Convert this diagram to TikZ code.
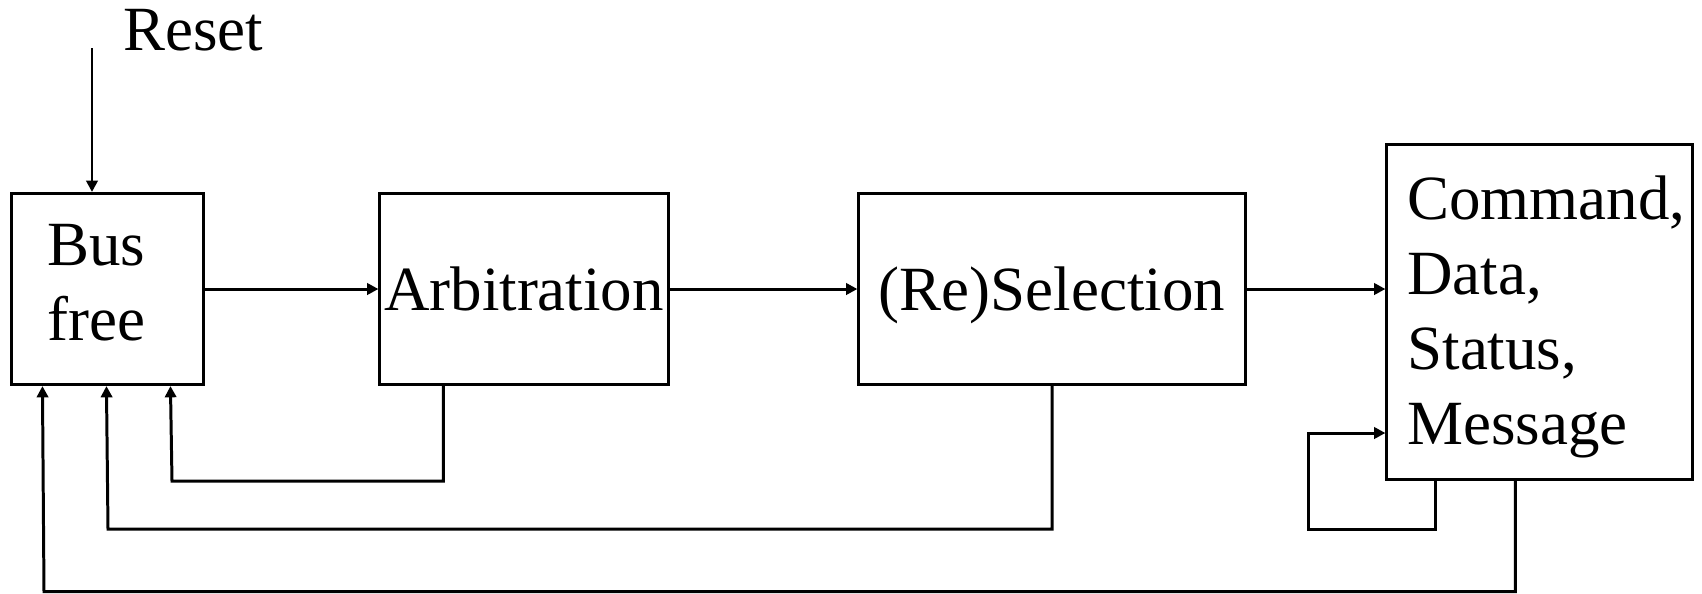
\documentclass[tikz,border=0pt]{standalone}
\usepackage{fontspec}
\setmainfont{Liberation Serif}
\usetikzlibrary{arrows.meta,calc}

\begin{document}
\begin{tikzpicture}[x=0.01cm,y=-0.01cm,
    line width=0.85pt,
    >={Triangle[length=3.2pt,width=3.2pt]},
    every node/.style={font=\fontsize{17.9pt}{21.3pt}\selectfont, inner sep=0pt},
    statebox/.style={draw, rectangle, text depth=0pt},
    label/.style={align=left, anchor=west}]
  \useasboundingbox (0,0) rectangle (1702,593);

  % states
  \node[statebox, minimum width=1.91cm, minimum height=1.91cm] (busfree) at (107.5,289) {};
  \node[statebox, minimum width=2.88cm, minimum height=1.91cm] (arb) at (524,289) {Arbitration};
  \node[statebox, minimum width=3.86cm, minimum height=1.91cm] (sel) at (1052,289) {(Re)Selection};
  \node[statebox, minimum width=3.05cm, minimum height=3.34cm] (cmd) at (1539.5,312) {};

  \node[label] (busfreetxt) at (46,283) {Bus\\free};
  \node[label] (cmdtxt) at (1406,317) {Command,\\Data,\\Status,\\Message};

  % reset input
  \node[anchor=base west] (reset) at (122,50) {Reset};
  \coordinate (resetin) at (92,48);
  \draw[->] (resetin) -- (resetin |- busfree.north);

  % forward transitions
  \draw[->] (busfree.east) -- (arb.west);
  \draw[->] (arb.east) -- (sel.west);
  \draw[->] (sel.east) -- (sel.east -| cmd.west);

  % returns to bus free
  \draw[->] ($(arb.south west)+(65,0)$) |- (172,481) -- ($(busfree.south west)+(160,0)$);
  \draw[->] (sel.south) |- (108,529) -- ($(busfree.south west)+(96,0)$);
  \draw[->] ($(cmd.south west)+(130,0)$) |- (44,591.5) -- ($(busfree.south west)+(32,0)$);

  % information transfer loop
  \draw[->] ($(cmd.south west)+(50,0)$) |- (1308,529) |- (cmd.west |- 0,433);
\end{tikzpicture}
\end{document}
